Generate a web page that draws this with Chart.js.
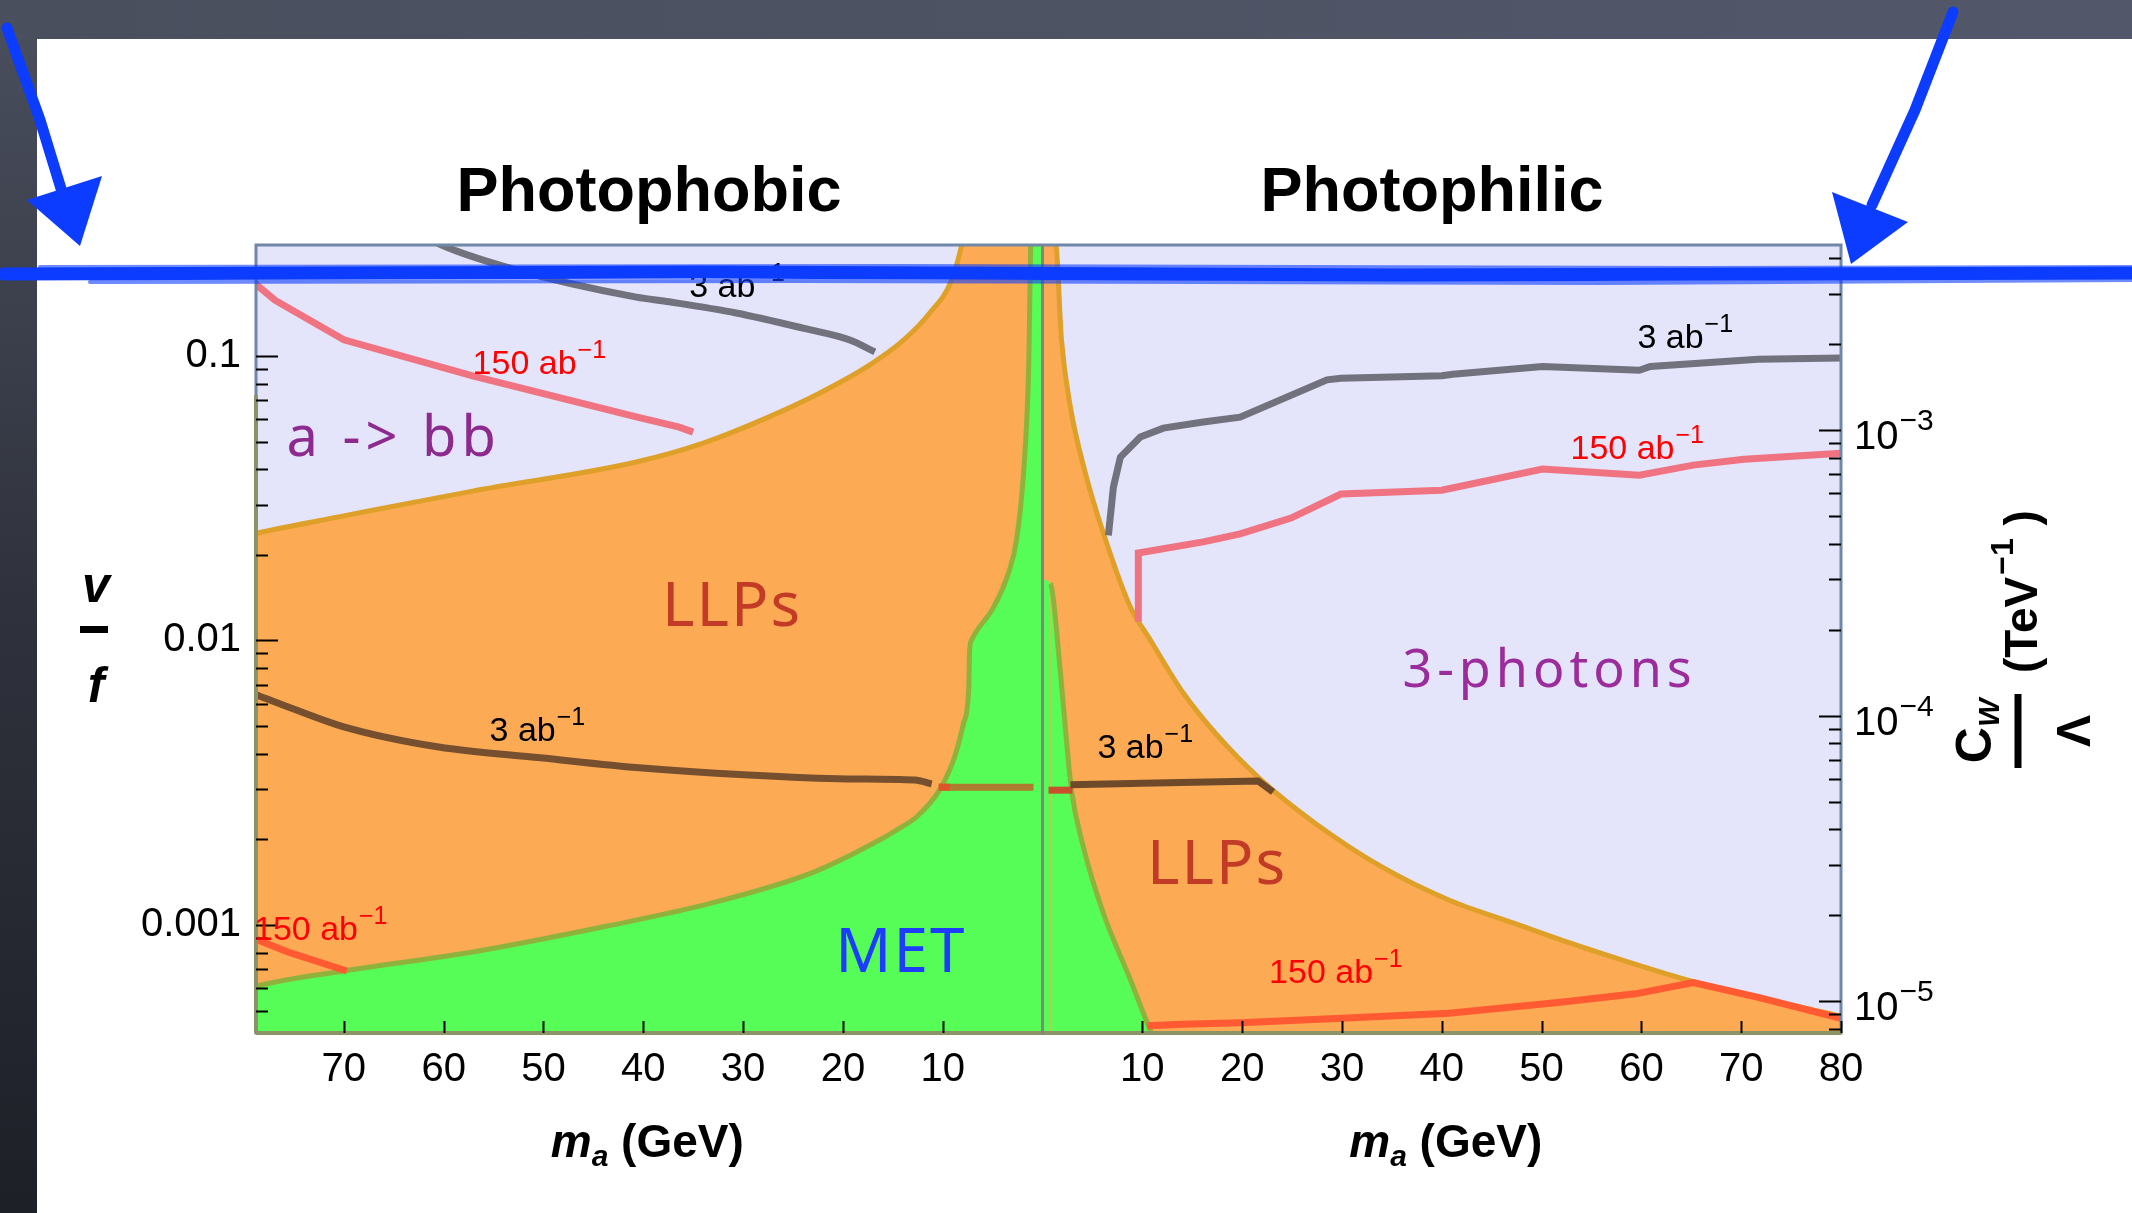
<!DOCTYPE html>
<html>
<head>
<meta charset="utf-8">
<title>Photophobic / Photophilic</title>
<script src="https://cdn.jsdelivr.net/npm/chart.js@4.4.1/dist/chart.umd.min.js"></script>
<style>
  html, body { margin: 0; padding: 0; background: #2c2f39; overflow: hidden; }
  canvas { display: block; }
</style>
</head>
<body>
<canvas id="grafico" width="2132" height="1213"></canvas>
<script>
// DATOS
// eje x comun: masa negativa = panel izquierdo (photophobic, eje v/f)
//              masa positiva = panel derecho (photophilic, eje Cw/Lambda)
const massTicks = [-70, -60, -50, -40, -30, -20, -10, 10, 20, 30, 40, 50, 60, 70, 80];
const vfTicks = [0.1, 0.01, 0.001];
const cwTicks = [1e-3, 1e-4, 1e-5];

// panel izquierdo: regiones
const llpLeftMass = [-80, -79.1, -70, -57.1, -40.7, -34.0, -27.4, -22.3, -17.3, -13.9, -11.3, -9.1, -8.1, -7.6, 0];
const llpLeftVf = [0.0233, 0.0237, 0.0274, 0.0335, 0.0424, 0.0494, 0.0611, 0.0741, 0.093, 0.1138, 0.1416, 0.185, 0.245, 0.3, 0.3];
const metLeftMass = [-80, -79.1, -70, -57.1, -43.5, -33.3, -23.0, -16.2, -14.6, -12.6, -10.3, -8.8, -7.9, -7.4, -7.3, -7.1, -4.9, -3.4, -2.6, -1.9, -1.4, -1.1, 0];
const metLeftVf = [5.9e-4, 6.05e-4, 6.89e-4, 8.03e-4, 9.93e-4, 1.19e-3, 1.53e-3, 2.0e-3, 2.16e-3, 2.4e-3, 2.99e-3, 3.9e-3, 5.13e-3, 6.7e-3, 9.27e-3, 1.005e-2, 1.31e-2, 1.73e-2, 2.26e-2, 3.88e-2, 8.71e-2, 0.3, 0.3];

// panel izquierdo: curvas de sensibilidad
const bb3LeftMass = [-61.5, -60.2, -53.0, -40.7, -37.4, -30.7, -23.9, -19.3, -16.8];
const bb3LeftVf = [0.26, 0.2455, 0.202, 0.161, 0.155, 0.1416, 0.125, 0.1138, 0.1033];
const bb150LeftMass = [-80, -79.0, -76.9, -70.0, -57.1, -40.7, -36.4, -35.0];
const bb150LeftVf = [0.19, 0.181, 0.157, 0.114, 0.0851, 0.0611, 0.0562, 0.054];
const llp3LeftMass = [-80, -79.1, -76.9, -70, -60.5, -50.3, -40.1, -29.9, -19.6, -12.8, -11.1];
const llp3LeftVf = [6.6e-3, 6.49e-3, 6.08e-3, 4.97e-3, 4.22e-3, 3.87e-3, 3.56e-3, 3.37e-3, 3.26e-3, 3.23e-3, 3.13e-3];
const met3LeftMass = [-10.4, -0.9];
const met3LeftVf = [3.05e-3, 3.05e-3];
const met3CapMass = [-10.4, -9.3];
const met3CapVf = [3.05e-3, 3.05e-3];
const llp150LeftMass = [-80, -79.1, -75.6, -69.7];
const llp150LeftVf = [9.3e-4, 9.0e-4, 8.03e-4, 6.89e-4];

// panel derecho: regiones
const llpRightMass = [0, 1.3, 1.9, 2.8, 4.3, 6.1, 8.8, 10.8, 12.8, 14.1, 17.3, 21.7, 27.3, 34.0, 40.7, 47.3, 51.9, 65.2, 80];
const llpRightCw = [5e-3, 4.6e-3, 2.07e-3, 1.2e-3, 7.06e-4, 4.35e-4, 2.4e-4, 1.84e-4, 1.41e-4, 1.2e-4, 8.69e-5, 6.04e-5, 4.2e-5, 2.95e-5, 2.26e-5, 1.87e-5, 1.64e-5, 1.17e-5, 8.85e-6];
const metRightMass = [0, 0.8, 1.8, 2.4, 2.9, 4.1, 6.1, 8.8, 10.8, 11.5];
const metRightCw = [3.0e-4, 2.9e-4, 1.41e-4, 8.2e-5, 5.48e-5, 3.46e-5, 2.03e-5, 1.19e-5, 7.9e-6, 7.0e-6];

// panel derecho: curvas de sensibilidad
const ph3RightMass = [6.6, 7.1, 7.8, 9.8, 12.1, 16.1, 19.8, 28.5, 29.9, 40.0, 41.1, 50.1, 59.8, 60.9, 71.7, 80];
const ph3RightCw = [4.28e-4, 6.31e-4, 8.04e-4, 9.45e-4, 1.016e-3, 1.067e-3, 1.11e-3, 1.50e-3, 1.52e-3, 1.55e-3, 1.57e-3, 1.67e-3, 1.62e-3, 1.67e-3, 1.77e-3, 1.79e-3];
const ph150RightMass = [9.6, 9.6, 16.1, 19.8, 24.9, 29.9, 40.0, 50.1, 59.8, 65.2, 70.3, 80];
const ph150RightCw = [2.13e-4, 3.71e-4, 4.06e-4, 4.33e-4, 4.92e-4, 5.97e-4, 6.16e-4, 7.3e-4, 6.95e-4, 7.54e-4, 7.91e-4, 8.3e-4];
const llp3RedMass = [0.6, 3.0];
const llp3RedCw = [5.48e-5, 5.48e-5];
const llp3RightMass = [2.8, 10, 21.6, 23.1];
const llp3RightCw = [5.72e-5, 5.8e-5, 5.9e-5, 5.4e-5];
const llp150RightMass = [10.5, 14.1, 19.8, 30, 40.7, 51.9, 59.4, 65.2, 71.7, 80];
const llp150RightCw = [8.2e-6, 8.3e-6, 8.4e-6, 8.71e-6, 9.07e-6, 9.91e-6, 1.06e-5, 1.16e-5, 1.03e-5, 8.7e-6];

// etiquetas de luminosidad (esquina inferior izquierda del texto)
const lumiText = ['3 ab', '150 ab', '3 ab', '150 ab', '3 ab', '150 ab', '3 ab', '150 ab'];
const lumiMass = [-35.4, -57.1, -55.4, -79.0, 59.6, 52.9, 5.5, 22.7];
const lumiVal = [0.161, 0.0867, 4.43e-3, 8.85e-4, 1.94e-3, 7.91e-4, 7.10e-5, 1.156e-5];
const lumiAxis = ['yL', 'yL', 'yL', 'yL', 'yR', 'yR', 'yR', 'yR'];

// etiquetas a mano (centro)
const zoneText = ['a -> bb', 'LLPs', 'MET', '3-photons', 'LLPs'];
const zoneMass = [-65.0, -31.1, -14.2, 50.8, 17.5];
const zoneVal = [0.0507, 0.0130, 7.85e-4, 1.42e-4, 2.97e-5];
const zoneAxis = ['yL', 'yL', 'yL', 'yR', 'yR'];
const zoneColor = ['#8c2a8e', '#c23b27', '#1d3cff', '#9a2c9c', '#c23b27'];

// ESTILOS
const W = 2132, H = 1213;
const SANS = '"Liberation Sans", Arial, Helvetica, sans-serif';
const HAND = '"Noto Sans", "DejaVu Sans", sans-serif';
const LAVANDA = '#e4e4fa';
const NARANJA = '#fdaa55';
const VERDE = '#56fd56';
const AZUL = '#0b3cff';

function puntos(xs, ys) {
  return xs.map((x, i) => ({ x: x, y: ys[i] }));
}

function serie(xs, ys, eje, color, ancho, orden, extra) {
  return Object.assign({
    data: puntos(xs, ys),
    yAxisID: eje,
    borderColor: color,
    borderWidth: ancho,
    pointRadius: 0,
    fill: false,
    tension: 0,
    order: orden
  }, extra || {});
}

const datasets = [
  serie(llpLeftMass, llpLeftVf, 'yL', '#dea028', 5, 20, { fill: 'start', backgroundColor: NARANJA, cubicInterpolationMode: 'monotone' }),
  serie(metLeftMass, metLeftVf, 'yL', '#8fb23c', 5, 19, { fill: 'start', backgroundColor: VERDE, cubicInterpolationMode: 'monotone' }),
  serie(llpRightMass, llpRightCw, 'yR', '#dea028', 5, 20, { fill: 'start', backgroundColor: NARANJA, cubicInterpolationMode: 'monotone' }),
  serie(metRightMass, metRightCw, 'yR', '#8fb23c', 5, 19, {
    fill: 'start', backgroundColor: VERDE, cubicInterpolationMode: 'monotone',
    segment: { borderColor: s => s.p0DataIndex === 0 ? 'rgba(0,0,0,0)' : undefined }
  }),

  serie(bb3LeftMass, bb3LeftVf, 'yL', '#72727e', 7, 5, { cubicInterpolationMode: 'monotone' }),
  serie(bb150LeftMass, bb150LeftVf, 'yL', '#f07382', 7, 5),
  serie(llp3LeftMass, llp3LeftVf, 'yL', '#76502e', 7, 5, { cubicInterpolationMode: 'monotone' }),
  serie(met3LeftMass, met3LeftVf, 'yL', '#ad7c2e', 7, 4),
  serie(met3CapMass, met3CapVf, 'yL', '#e0542a', 7, 3),
  serie(llp150LeftMass, llp150LeftVf, 'yL', '#ff5a32', 7, 5),

  serie(ph3RightMass, ph3RightCw, 'yR', '#72727e', 7, 5),
  serie(ph150RightMass, ph150RightCw, 'yR', '#f07382', 7, 5),
  serie(llp3RedMass, llp3RedCw, 'yR', '#c8502a', 7, 4),
  serie(llp3RightMass, llp3RightCw, 'yR', '#6e4a2a', 7, 3),
  serie(llp150RightMass, llp150RightCw, 'yR', '#ff5a32', 7, 5)
];

// texto con exponente
function textoExp(c, x, y, base, exp, color, size, peso) {
  const w0 = peso ? peso + ' ' : '';
  c.fillStyle = color;
  c.textAlign = 'left';
  c.textBaseline = 'alphabetic';
  c.font = w0 + size + 'px ' + SANS;
  c.fillText(base, x, y);
  const w = c.measureText(base).width;
  c.font = w0 + Math.round(size * 0.74) + 'px ' + SANS;
  c.fillText(exp, x + w + 1, y - size * 0.47);
}

function marcasLog(c, escala, x, dir) {
  const min = escala.min, max = escala.max;
  const e0 = Math.floor(Math.log10(min)), e1 = Math.ceil(Math.log10(max));
  c.strokeStyle = '#000';
  c.lineWidth = 2;
  for (let e = e0; e <= e1; e++) {
    for (let m = 1; m <= 9; m++) {
      const v = m * Math.pow(10, e);
      if (v < min || v > max) continue;
      const py = Math.round(escala.getPixelForValue(v)) + 0.5;
      const len = m === 1 ? 22 : 12;
      c.beginPath();
      c.moveTo(x, py);
      c.lineTo(x + dir * len, py);
      c.stroke();
    }
  }
}

const fondo = {
  id: 'fondo',
  beforeDraw(chart) {
    const c = chart.ctx;
    c.save();
    const g1 = c.createLinearGradient(0, 0, W, 0);
    g1.addColorStop(0, '#4a4f5e');
    g1.addColorStop(1, '#52576a');
    c.fillStyle = g1;
    c.fillRect(0, 0, W, H);
    const g2 = c.createLinearGradient(0, 0, 0, H);
    g2.addColorStop(0, '#4a4f5e');
    g2.addColorStop(0.5, '#2f323c');
    g2.addColorStop(1, '#1e2028');
    c.fillStyle = g2;
    c.fillRect(0, 39, 37, H - 39);
    c.fillStyle = '#ffffff';
    c.fillRect(37, 39, W - 37, H - 39);
    c.restore();
  },
  beforeDatasetsDraw(chart) {
    const a = chart.chartArea, c = chart.ctx;
    c.save();
    c.fillStyle = LAVANDA;
    c.fillRect(a.left, a.top, a.right - a.left, a.bottom - a.top);
    c.restore();
  }
};

const anotaciones = {
  id: 'anotaciones',
  afterDraw(chart) {
    const c = chart.ctx, a = chart.chartArea, sx = chart.scales.x;
    const yL = chart.scales.yL, yR = chart.scales.yR;
    const x0 = sx.getPixelForValue(0);
    c.save();

    // marco
    c.lineWidth = 3;
    c.strokeStyle = '#7088a8';
    c.strokeRect(a.left, a.top, a.right - a.left, a.bottom - a.top);
    c.strokeStyle = '#8a9466';
    c.lineWidth = 4;
    c.beginPath(); c.moveTo(a.left, a.bottom); c.lineTo(a.right, a.bottom); c.stroke();
    c.beginPath(); c.moveTo(a.left, a.top + 150); c.lineTo(a.left, a.bottom); c.stroke();
    c.strokeStyle = '#85857f';
    c.lineWidth = 3;
    c.beginPath(); c.moveTo(x0, a.top); c.lineTo(x0, a.bottom + 2); c.stroke();

    // marcas de los ejes
    marcasLog(c, yL, a.left, 1);
    marcasLog(c, yR, a.right, -1);
    c.strokeStyle = '#000';
    c.lineWidth = 2;
    massTicks.forEach(m => {
      const px = Math.round(sx.getPixelForValue(m)) + 0.5;
      c.beginPath(); c.moveTo(px, a.bottom); c.lineTo(px, a.bottom - 12); c.stroke();
    });

    // etiquetas eje derecho 10^-n
    cwTicks.forEach(v => {
      const py = yR.getPixelForValue(v);
      const e = Math.round(Math.log10(v));
      textoExp(c, a.right + 13, py + 19, '10', '\u2212' + Math.abs(e), '#000', 40);
    });

    // etiquetas de luminosidad
    lumiText.forEach((t, i) => {
      const px = sx.getPixelForValue(lumiMass[i]);
      const py = chart.scales[lumiAxis[i]].getPixelForValue(lumiVal[i]);
      const col = t.startsWith('150') ? '#ff0000' : '#000000';
      textoExp(c, px, py, t, '\u22121', col, 34);
    });

    // etiquetas de regiones
    c.textAlign = 'center';
    c.textBaseline = 'middle';
    zoneText.forEach((t, i) => {
      const px = sx.getPixelForValue(zoneMass[i]);
      const py = chart.scales[zoneAxis[i]].getPixelForValue(zoneVal[i]);
      let size = 62, esp = '2px';
      if (t === 'a -> bb') { size = 56; esp = '5px'; }
      if (t === '3-photons') { size = 52; esp = '5px'; }
      c.font = size + 'px ' + HAND;
      c.letterSpacing = esp;
      c.fillStyle = zoneColor[i];
      c.fillText(t, px, py);
    });
    c.letterSpacing = '0px';

    // titulos
    c.fillStyle = '#000';
    c.textAlign = 'center';
    c.textBaseline = 'alphabetic';
    c.font = 'bold 63px ' + SANS;
    c.fillText('Photophobic', 649, 211);
    c.fillText('Photophilic', 1432, 211);

    // titulos eje x: m_a (GeV)
    [-39.6, 40.4].forEach(m => {
      const cx = sx.getPixelForValue(m);
      c.font = 'italic bold 46px ' + SANS;
      const wm = c.measureText('m').width;
      c.font = 'italic bold 30px ' + SANS;
      const wa = c.measureText('a').width;
      c.font = 'bold 46px ' + SANS;
      const wg = c.measureText(' (GeV)').width;
      let x = cx - (wm + wa + wg) / 2;
      c.textAlign = 'left';
      c.font = 'italic bold 46px ' + SANS;
      c.fillText('m', x, 1157);
      c.font = 'italic bold 30px ' + SANS;
      c.fillText('a', x + wm, 1166);
      c.font = 'bold 46px ' + SANS;
      c.fillText(' (GeV)', x + wm + wa, 1157);
    });

    // titulo eje izquierdo v / f
    c.textAlign = 'center';
    c.font = 'italic bold 50px ' + SANS;
    c.fillText('v', 96, 602);
    c.fillRect(80, 626, 28, 7);
    c.fillText('f', 96, 702);

    // titulo eje derecho (rotado)
    c.save();
    c.translate(2018, 731);
    c.rotate(-Math.PI / 2);
    c.fillRect(-37, -3.5, 74, 7);
    c.textAlign = 'left';
    c.font = 'bold 50px ' + SANS;
    const wc = c.measureText('C').width;
    c.font = 'italic bold 30px ' + SANS;
    const ww = c.measureText('W').width;
    const xc = -(wc + ww) / 2;
    c.font = 'bold 50px ' + SANS;
    c.fillText('C', xc, -27);
    c.font = 'italic bold 30px ' + SANS;
    c.fillText('W', xc + wc, -19);
    c.textAlign = 'center';
    c.font = 'bold 48px ' + SANS;
    c.fillText('\u039B', 0, 72);
    c.textAlign = 'left';
    c.font = 'bold 46px ' + SANS;
    c.fillText('(TeV', 58, 19);
    const wt = c.measureText('(TeV').width;
    c.font = 'bold 32px ' + SANS;
    c.fillText('\u22121', 58 + wt + 2, -5);
    const ws = c.measureText('\u22121').width;
    c.font = 'bold 46px ' + SANS;
    c.fillText(' )', 58 + wt + ws + 2, 19);
    c.restore();

    // marcas azules a mano
    c.strokeStyle = AZUL;
    c.fillStyle = AZUL;
    c.lineCap = 'round';
    c.lineWidth = 13;
    c.beginPath(); c.moveTo(4, 274); c.lineTo(700, 272); c.lineTo(1400, 275); c.lineTo(W, 273); c.stroke();
    c.globalAlpha = 0.6;
    c.lineWidth = 4;
    c.beginPath(); c.moveTo(40, 267); c.lineTo(900, 266); c.lineTo(1700, 268); c.lineTo(W, 267); c.stroke();
    c.beginPath(); c.moveTo(90, 282); c.lineTo(800, 281); c.lineTo(1600, 283); c.lineTo(W, 280); c.stroke();
    c.globalAlpha = 1;
    c.lineWidth = 11;
    c.beginPath(); c.moveTo(7, 28); c.lineTo(40, 120); c.lineTo(66, 205); c.stroke();
    c.beginPath(); c.moveTo(27, 200); c.lineTo(102, 176); c.lineTo(80, 246); c.closePath(); c.fill();
    c.beginPath(); c.moveTo(1953, 12); c.lineTo(1915, 110); c.lineTo(1872, 205); c.stroke();
    c.beginPath(); c.moveTo(1832, 192); c.lineTo(1908, 222); c.lineTo(1851, 264); c.closePath(); c.fill();

    c.restore();
  }
};

const ctx = document.getElementById('grafico').getContext('2d');
new Chart(ctx, {
  type: 'line',
  data: { datasets: datasets },
  options: {
    responsive: false,
    animation: false,
    devicePixelRatio: 1,
    layout: { padding: { top: 245, left: 0, right: 0, bottom: 0 } },
    scales: {
      x: {
        type: 'linear',
        min: -78.8,
        max: 80,
        afterFit(s) { s.height = 180; },
        grid: { display: false, drawTicks: false },
        border: { display: false },
        ticks: {
          stepSize: 10,
          includeBounds: false,
          autoSkip: false,
          maxRotation: 0,
          padding: 13,
          color: '#000',
          font: { family: SANS, size: 40 },
          callback: v => massTicks.includes(v) ? String(Math.abs(v)) : ''
        }
      },
      yL: {
        type: 'logarithmic',
        position: 'left',
        min: 4.17e-4,
        max: 0.2455,
        afterFit(s) { s.width = 256; },
        grid: { display: false, drawTicks: false },
        border: { display: false },
        ticks: {
          autoSkip: false,
          padding: 15,
          color: '#000',
          font: { family: SANS, size: 40 },
          callback: v => vfTicks.includes(v) ? String(v) : ''
        }
      },
      yR: {
        type: 'logarithmic',
        position: 'right',
        min: 7.73e-6,
        max: 4.45e-3,
        afterFit(s) { s.width = 291; },
        grid: { display: false, drawTicks: false },
        border: { display: false },
        ticks: { display: false }
      }
    },
    plugins: {
      legend: { display: false },
      tooltip: { enabled: false },
      title: { display: false }
    }
  },
  plugins: [fondo, anotaciones]
});
</script>
</body>
</html>
